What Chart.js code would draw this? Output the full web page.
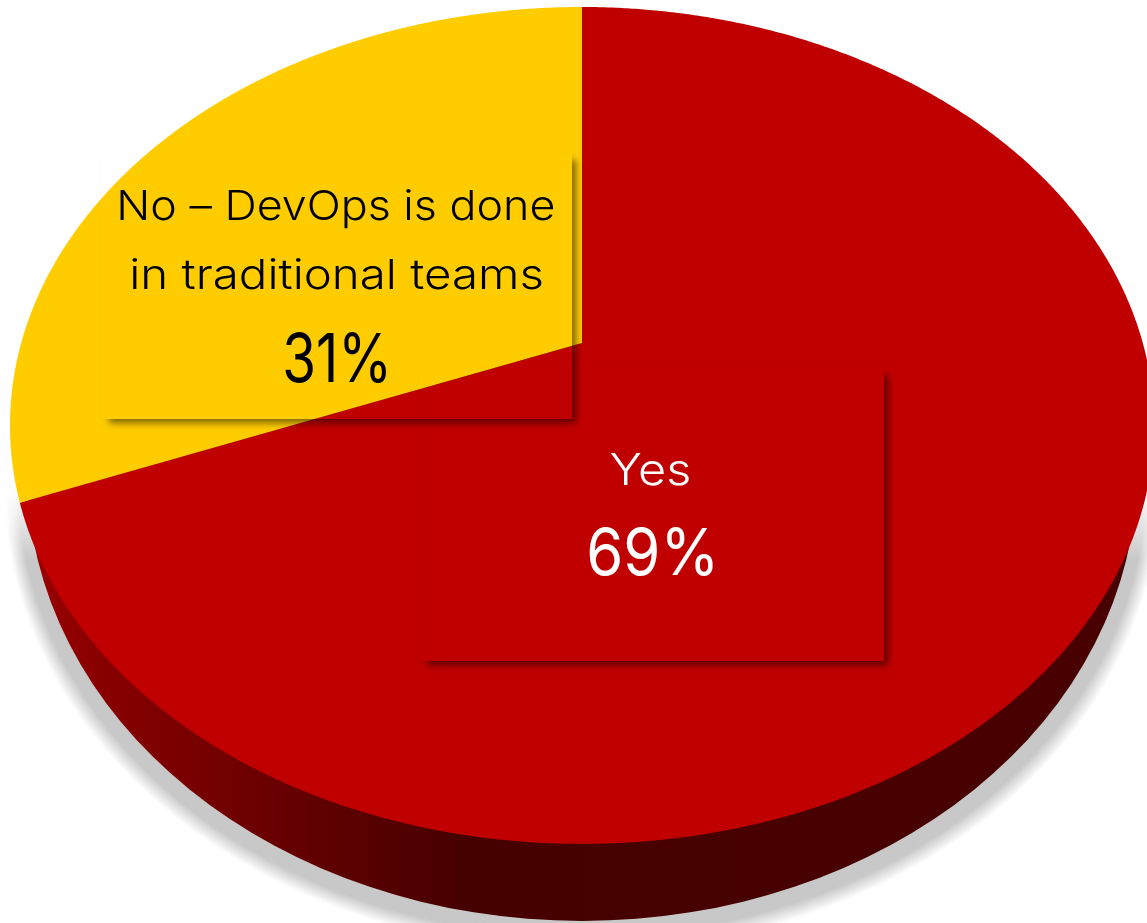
<!DOCTYPE html>
<html>
<head>
<meta charset="utf-8">
<style>html,body{margin:0;padding:0;background:#fff;overflow:hidden}canvas{display:block}</style>
<script src="https://cdn.jsdelivr.net/npm/chart.js@4/dist/chart.umd.min.js"></script>
</head>
<body>
<canvas id="c" width="1147" height="923"></canvas>
<script>
const categories = ["Yes", "No – DevOps is done in traditional teams"];
const values = [69, 31];
const sliceColors = ["#C00000", "#FFCC00"];

const FONT = '"Inter", "Noto Sans", sans-serif';
// perspective of the pie's top face, as multiples of the library's radius
const K = 0.197, SX = 560.8 / 343, SY = 402.2 / 343;

function project(arc, a) {
  const u = Math.cos(a), v = Math.sin(a), w = 1 - K * v;
  return [arc.x + arc.outerRadius * SX * u / w, arc.y + arc.outerRadius * SY * v / w];
}
function boxShadow(ctx, x, y, w, h) {
  ctx.save();
  ctx.beginPath();
  ctx.rect(0, 0, 1147, 923);
  ctx.rect(x, y, w, h);
  ctx.clip('evenodd');
  ctx.shadowColor = 'rgba(0,0,0,0.5)';
  ctx.shadowBlur = 7;
  ctx.shadowOffsetX = 4;
  ctx.shadowOffsetY = 4;
  ctx.fillStyle = '#000';
  ctx.fillRect(x + 3, y + 3, w - 3, h - 3);
  ctx.restore();
}
function label(ctx, text, x, base, size, weight, color, targetW) {
  ctx.save();
  ctx.font = `${weight} ${size}px ${FONT}`;
  ctx.fillStyle = color;
  ctx.textAlign = 'center';
  ctx.textBaseline = 'alphabetic';
  const m = ctx.measureText(text);
  const ink = m.actualBoundingBoxLeft + m.actualBoundingBoxRight;
  ctx.translate(x, base);
  ctx.scale(targetW / ink, 1);
  ctx.fillText(text, (m.actualBoundingBoxLeft - m.actualBoundingBoxRight) / 2, 0);
  ctx.restore();
}

const pie3d = {
  id: 'pie3d',
  beforeDatasetsDraw(chart) {
    const ctx = chart.ctx, arcs = chart.getDatasetMeta(0).data, r0 = arcs[0];
    const r = r0.outerRadius;
    const rimY = r0.y + r * 129 / 343, rimX = r * 555 / 343, rimH = r * 449 / 343;
    // soft drop shadow around the rim: opaque ellipses from pale to grey
    const layers = 22;
    for (let i = layers; i > 0; i--) {
      const t = 1 - i / layers;                 // 0 at the outer edge, 1 next to the rim
      const g = Math.round(255 - 55 * Math.min(1, t * 1.7));
      ctx.beginPath();
      ctx.ellipse(r0.x, rimY + 5 + i * 0.6, rimX + i * 1.05, rimH + i * 0.6, 0, 0, Math.PI * 2);
      ctx.fillStyle = `rgb(${g},${g},${g})`;
      ctx.fill();
    }
    // the shadow fades out towards the pie's widest point
    const fade = ctx.createLinearGradient(0, 490, 0, 560);
    fade.addColorStop(0, 'rgba(255,255,255,1)');
    fade.addColorStop(1, 'rgba(255,255,255,0)');
    ctx.fillStyle = fade;
    ctx.fillRect(0, 0, chart.width, 560);
    // rim
    const grad = ctx.createLinearGradient(0, 0, 1147, 0);
    grad.addColorStop(0.02, '#9c0000');
    grad.addColorStop(0.09, '#880000');
    grad.addColorStop(0.26, '#640000');
    grad.addColorStop(0.40, '#470000');
    grad.addColorStop(1, '#480000');
    ctx.fillStyle = grad;
    ctx.beginPath();
    ctx.ellipse(r0.x, rimY, rimX, rimH, 0, 0, Math.PI * 2);
    ctx.fill();
    // top face, from each arc element's own angles
    arcs.forEach(arc => {
      ctx.beginPath();
      ctx.moveTo(arc.x, arc.y);
      const n = 720;
      for (let i = 0; i <= n; i++) {
        const p = project(arc, arc.startAngle + (arc.endAngle - arc.startAngle) * i / n);
        ctx.lineTo(p[0], p[1]);
      }
      ctx.closePath();
      ctx.fillStyle = arc.options.backgroundColor;
      ctx.fill();
    });
    return false;
  },
  afterDraw(chart) {
    const ctx = chart.ctx;
    boxShadow(ctx, 102, 153, 470, 266);
    boxShadow(ctx, 420, 368, 464, 293);
    label(ctx, "No – DevOps is done", 336.5, 220, 41, 300, '#000', 434);
    label(ctx, "in traditional teams", 336.5, 289, 41, 300, '#000', 410);
    label(ctx, values[1] + "%", 336, 382, 67, 400, '#000', 101);
    label(ctx, categories[0], 650, 485, 44, 300, '#fff', 79);
    label(ctx, values[0] + "%", 651, 575, 65, 400, '#fff', 124);
  }
};

new Chart(document.getElementById('c'), {
  type: 'pie',
  data: {
    labels: categories,
    datasets: [{ data: values, backgroundColor: sliceColors, borderWidth: 0 }]
  },
  options: {
    responsive: false,
    animation: false,
    rotation: 0,
    layout: { padding: { left: 17, bottom: 237 } },
    plugins: { legend: { display: false }, tooltip: { enabled: false } }
  },
  plugins: [pie3d]
});
</script>
</body>
</html>
